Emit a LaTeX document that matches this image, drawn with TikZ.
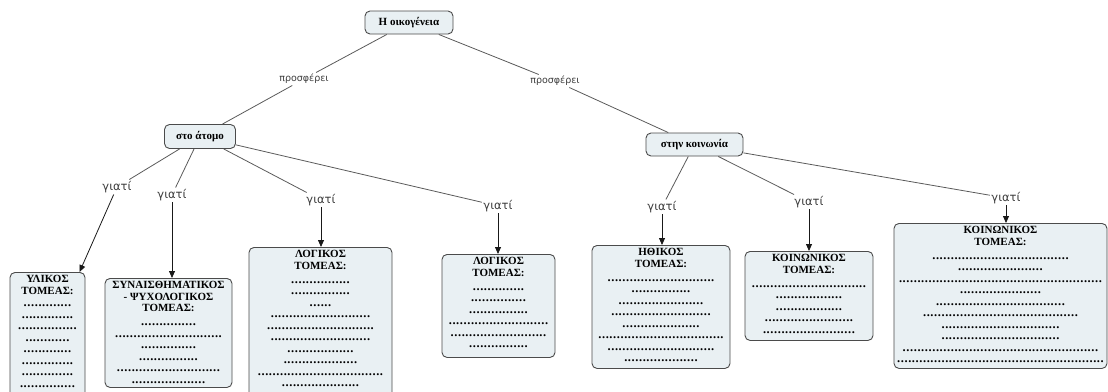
\documentclass[tikz,border=0pt]{standalone}
\usepackage{fontspec}
\setmainfont{Liberation Serif}
\newfontfamily\labelfont{DejaVu Sans}
\usetikzlibrary{arrows.meta}
\definecolor{boxfill}{RGB}{233,240,243}
\definecolor{boxline}{RGB}{75,75,75}
\definecolor{linkcol}{RGB}{90,90,90}
\definecolor{arrcol}{RGB}{25,25,25}
\definecolor{labcol}{RGB}{60,60,60}
\newdimen\dotw \dotw=3.7pt
\newcommand\dts[1]{\leavevmode\hbox to #1\dotw{\xleaders\hbox to \dotw{\hss\fontsize{12.5}{12}\selectfont.\hss}\hfill}}
\newcommand\btext[3]{\parbox[t][#2pt][t]{#1pt}{\centering\fontsize{11}{11.5}\selectfont\rule{0pt}{8pt}#3}}
\begin{document}
\begin{tikzpicture}[x=1pt,y=-1pt,
  box/.style={draw=boxline, fill=boxfill, rounded corners=5pt, line width=0.9pt,
    inner xsep=2pt, inner ysep=2.5pt, anchor=north, font=\bfseries},
  conc/.style={draw=boxline, fill=boxfill, rounded corners=5pt, line width=0.9pt,
    font=\fontsize{11}{13}\selectfont\bfseries, inner sep=0pt},
  lab/.style={font=\labelfont\fontsize{11.5}{13}\selectfont, text=labcol, inner sep=1.5pt},
  plab/.style={font=\labelfont\fontsize{9.5}{12}\selectfont, text=labcol, inner sep=1.5pt},
  link/.style={draw=linkcol, line width=0.8pt},
  arr/.style={draw=arrcol, line width=0.8pt, -{Triangle[length=7pt,width=6pt]}}]
\useasboundingbox (0,0) rectangle (1108,391);
\clip (0,0) rectangle (1108,391);
% concepts
\node[conc, minimum width=88pt, minimum height=23pt] (root) at (409,22.5) {Η οικογένεια};
\node[conc, minimum width=71pt, minimum height=24pt] (atomo) at (200,136.5) {στο άτομο};
\node[conc, minimum width=97pt, minimum height=23pt] (koin) at (694.5,144.5) {στην κοινωνία};
% boxes
\node[box] (y1) at (47.5,272) {\btext{71}{140}{ΥΛΙΚΟΣ\\ΤΟΜΕΑΣ:\\[1pt]
  \dts{13}\\\dts{14}\\\dts{16}\\\dts{12}\\\dts{13}\\\dts{14}\\\dts{14}\\\dts{15}}};
\node[box] (s) at (168.5,278) {\btext{123}{104}{ΣΥΝΑΙΣΘΗΜΑΤΙΚΟΣ\\- ΨΥΧΟΛΟΓΙΚΟΣ\\ΤΟΜΕΑΣ:\\[2.5pt]
  \dts{15}\\\dts{29}\\\dts{15}\\\dts{16}\\\dts{28}\\\dts{20}}};
\node[box] (l1) at (320.5,247) {\btext{139}{150}{ΛΟΓΙΚΟΣ\\ΤΟΜΕΑΣ:\\[2.5pt]
  \dts{16}\\\dts{16}\\\dts{6}\\\dts{27}\\\dts{29}\\\dts{27}\\\dts{18}\\\dts{20}\\\dts{34}\\\dts{21}}};
\node[box] (l2) at (498.5,254) {\btext{109}{98}{ΛΟΓΙΚΟΣ\\ΤΟΜΕΑΣ:\\[2.5pt]
  \dts{14}\\\dts{15}\\\dts{16}\\\dts{27}\\\dts{26}\\\dts{16}}};
\node[box] (h) at (661,245) {\btext{134}{118}{ΗΘΙΚΟΣ\\ΤΟΜΕΑΣ:\\[2.5pt]
  \dts{29}\\\dts{16}\\\dts{23}\\\dts{27}\\\dts{21}\\\dts{34}\\\dts{29}\\\dts{20}}};
\node[box] (k1) at (809,251) {\btext{124}{84}{ΚΟΙΝΩΝΙΚΟΣ\\ΤΟΜΕΑΣ:\\[2.5pt]
  \dts{31}\\\dts{18}\\\dts{18}\\\dts{24}\\\dts{25}}};
\node[box] (k2) at (1000.5,223) {\btext{209}{140}{ΚΟΙΝΩΝΙΚΟΣ\\ΤΟΜΕΑΣ:\\[2.5pt]
  \dts{37}\\\dts{23}\\\dts{55}\\\dts{22}\\\dts{35}\\\dts{42}\\\dts{32}\\\dts{32}\\\dts{53}\\\dts{56}}};
% labels
\node[plab] (p1) at (304,79) {προσφέρει};
\node[plab] (p2) at (555,81) {προσφέρει};
\node[lab] (g1) at (117,187) {γιατί};
\node[lab] (g2) at (172,195) {γιατί};
\node[lab] (g3) at (321,200) {γιατί};
\node[lab] (g4) at (498,206) {γιατί};
\node[lab] (g5) at (662,207) {γιατί};
\node[lab] (g6) at (809,202) {γιατί};
\node[lab] (g7) at (1006,198) {γιατί};
% connectors
\draw[link] (root) -- (p1);
\draw[link] (p1) -- (atomo);
\draw[link] (root) -- (p2);
\draw[link] (p2) -- (koin);
\draw[link] (atomo) -- (g1);
\draw[link] (atomo) -- (g2);
\draw[link] (atomo) -- (g3);
\draw[link] (atomo) -- (g4);
\draw[link] (koin) -- (g5);
\draw[link] (koin) -- (g6);
\draw[link] (koin) -- (g7);
\draw[arr] (g1) -- (y1);
\draw[arr] (g2) -- (g2 |- s.north);
\draw[arr] (g3) -- (g3 |- l1.north);
\draw[arr] (g4) -- (g4 |- l2.north);
\draw[arr] (g5) -- (g5 |- h.north);
\draw[arr] (g6) -- (g6 |- k1.north);
\draw[arr] (g7) -- (g7 |- k2.north);
\end{tikzpicture}
\end{document}
